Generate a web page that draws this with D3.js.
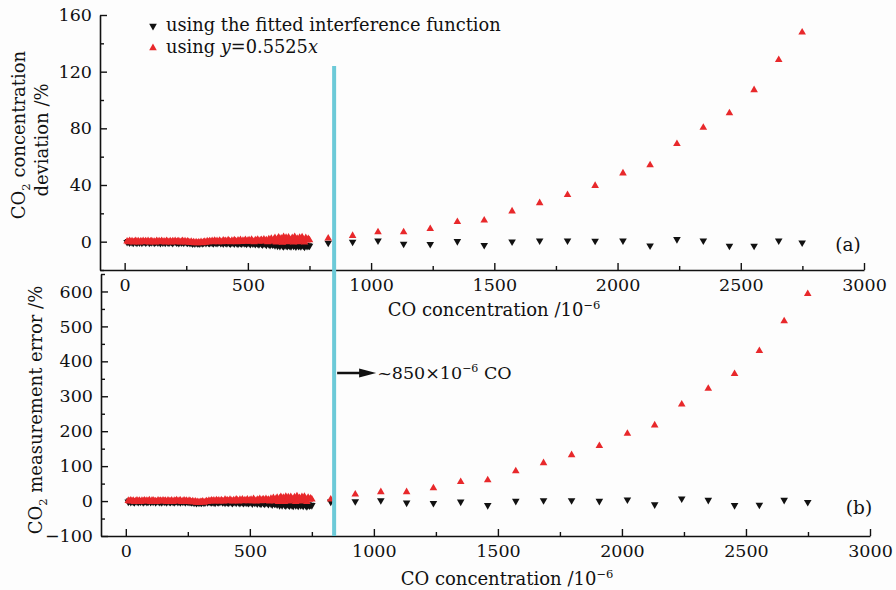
<!DOCTYPE html>
<html>
<head>
<meta charset="utf-8">
<script src="https://cdn.jsdelivr.net/npm/d3@7/dist/d3.min.js"></script>
<style>
  body { margin: 0; background: #fdfdfd; }
  svg { display: block; }
  text { font-family: "DejaVu Serif", serif; fill: #111; }
</style>
</head>
<body>
<svg id="chart" width="896" height="590"></svg>
<script>
// CO concentration (10^-6) of the dense low range, shared by both panels
var denseX = [10, 15, 20, 25, 30, 35, 40, 45, 50, 55,
  60, 65, 70, 75, 80, 85, 90, 95, 100, 105,
  110, 115, 120, 125, 130, 135, 140, 145, 150, 155,
  160, 165, 170, 175, 180, 185, 190, 195, 200, 205,
  210, 215, 220, 225, 230, 235, 240, 245, 250, 255,
  260, 265, 270, 275, 280, 285, 290, 295, 300, 305,
  310, 315, 320, 325, 330, 335, 340, 345, 350, 355,
  360, 365, 370, 375, 380, 385, 390, 395, 400, 405,
  410, 415, 420, 425, 430, 435, 440, 445, 450, 455,
  460, 465, 470, 475, 480, 485, 490, 495, 500, 505,
  510, 515, 520, 525, 530, 535, 540, 545, 550, 555,
  560, 565, 570, 575, 580, 585, 590, 595, 600, 605,
  610, 615, 620, 625, 630, 635, 640, 645, 650, 655,
  660, 665, 670, 675, 680, 685, 690, 695, 700, 705,
  710, 715, 720, 725, 730, 735, 740, 745, 750];

// (a) CO2 concentration deviation, %
var topDenseFit = [-0.4, 0.3, -0.7, 0.1, -0.5, -0.9, 0.2, -0.3, -0.8, 0.0,
  -0.6, 0.2, -0.9, -0.2, 0.1, -0.7, -0.4, 0.3, -0.8, -0.1,
  -0.5, 0.2, -0.9, -0.3, 0.0, -0.7, -0.2, -1.0, 0.1, -0.6,
  -0.3, -0.9, 0.2, -0.5, -0.8, 0.0, -0.4, -1.0, -0.2, 0.1,
  -0.7, -0.3, -1.0, 0.0, -0.6, -0.2, -0.9, 0.1, -0.5, -0.8,
  -0.4, -1.1, -0.6, -1.3, -0.8, -1.4, -0.7, -1.2, -1.0, -1.3,
  -0.6, -1.2, -0.9, -0.3, -1.1, -0.2, -0.8, -1.0, -0.4, -0.9,
  -1.2, -0.3, -0.8, -1.1, -0.5, -0.1, -1.0, -0.6, -1.3, -0.4,
  -0.9, -1.2, -0.2, -1.0, -1.4, -0.5, -0.8, -1.3, -0.3, -1.1,
  -1.5, -0.6, -1.0, -1.4, -0.4, -1.2, -0.9, -1.6, -0.7, -1.1,
  -1.7, -0.5, -1.3, -1.0, -1.8, -0.8, -1.4, -1.9, -0.6, -1.5,
  -2.0, -1.1, -1.6, -2.2, -0.9, -1.8, -2.4, -1.3, -2.1, -1.7,
  -2.6, -1.4, -2.9, -2.0, -3.1, -1.6, -2.7, -3.3, -1.9, -2.8,
  -3.2, -2.2, -2.9, -3.4, -1.8, -3.0, -2.5, -3.5, -2.1, -3.1,
  -2.6, -3.4, -2.0, -3.0, -3.6, -2.4, -3.2, -2.7, -3.0];
var topDenseLinear = [0.2, -0.3, 0.5, -0.1, 0.3, -0.4, 0.1, 0.6, -0.2, 0.4,
  -0.5, 0.2, 0.0, 0.5, -0.3, 0.3, -0.1, 0.6, -0.4, 0.2,
  0.4, -0.2, 0.1, -0.5, 0.5, 0.0, 0.3, -0.3, 0.6, -0.1,
  0.2, -0.4, 0.5, 0.1, -0.2, 0.4, -0.5, 0.3, 0.0, 0.6,
  -0.3, 0.2, 0.4, -0.4, 0.1, 0.5, -0.2, 0.3, -0.5, 0.2,
  -0.1, -0.6, 0.1, -0.8, -0.3, -0.9, -0.4, -1.0, -0.5, -0.8,
  -0.2, -0.9, -0.4, 0.1, -0.6, 0.3, -0.3, 0.4, -0.1, 0.6,
  -0.2, 0.7, 0.0, 0.5, -0.3, 0.8, 0.1, -0.2, 0.9, 0.2,
  0.6, -0.1, 1.0, 0.3, -0.3, 0.8, 0.0, 1.1, 0.4, -0.2,
  0.9, 0.2, 1.2, -0.1, 0.7, 0.3, 1.3, 0.0, 0.8, 1.0,
  0.1, 1.4, 0.4, -0.2, 1.1, 0.6, 1.5, 0.0, 0.9, 1.3,
  0.2, 1.6, 0.5, 1.0, -0.3, 1.8, 0.7, 2.2, 0.1, 1.4,
  2.6, -0.4, 1.9, 3.0, 0.3, 2.4, -0.6, 3.3, 1.2, 2.8,
  -0.2, 3.1, 1.6, 0.4, 2.7, -0.5, 3.4, 1.0, 2.2, -0.3,
  2.9, 0.6, 3.2, 1.5, -0.4, 2.6, 0.9, 2.0, 1.1];

// (b) CO2 measurement error, %
var botDenseFit = [-2, 1, -3, 0, -2, -4, 1, -1, -3, 0,
  -2, 1, -4, -1, 0, -3, -2, 1, -3, 0,
  -2, 1, -4, -1, 0, -3, -1, -4, 0, -2,
  -1, -4, 1, -2, -3, 0, -2, -4, -1, 0,
  -3, -1, -4, 0, -2, -1, -4, 0, -2, -3,
  -2, -4, -2, -5, -3, -6, -3, -5, -4, -5,
  -2, -5, -4, -1, -4, -1, -3, -4, -2, -4,
  -5, -1, -3, -4, -2, 0, -4, -2, -5, -2,
  -4, -5, -1, -4, -6, -2, -3, -5, -1, -4,
  -6, -2, -4, -6, -2, -5, -4, -6, -3, -4,
  -7, -2, -5, -4, -7, -3, -6, -8, -2, -6,
  -8, -4, -6, -9, -4, -7, -10, -5, -8, -7,
  -10, -6, -12, -8, -12, -6, -11, -13, -8, -11,
  -13, -9, -12, -14, -7, -12, -10, -14, -8, -12,
  -10, -14, -8, -12, -15, -10, -13, -11, -12];
var botDenseLinear = [1, -1, 2, 0, 1, -2, 0, 2, -1, 1,
  -2, 1, 0, 2, -1, 1, 0, 3, -2, 1,
  2, -1, 0, -2, 2, 0, 1, -1, 2, 0,
  1, -2, 2, 0, -1, 2, -2, 1, 0, 3,
  -1, 1, 2, -2, 0, 2, -1, 1, -2, 1,
  0, -3, 0, -3, -1, -4, -2, -4, -2, -3,
  -1, -4, -2, 0, -2, 1, -1, 2, 0, 2,
  -1, 3, 0, 2, -1, 3, 0, -1, 4, 1,
  2, 0, 4, 1, -1, 3, 0, 5, 2, -1,
  4, 1, 5, 0, 3, 1, 5, 0, 3, 4,
  0, 6, 2, -1, 4, 2, 6, 0, 4, 5,
  1, 6, 2, 4, -1, 7, 3, 9, 0, 6,
  10, -2, 8, 12, 1, 10, -2, 13, 5, 11,
  -1, 12, 6, 2, 11, -2, 14, 4, 9, -1,
  12, 2, 13, 6, -2, 10, 4, 8, 5];

// sparse high range
var sparseX = [826, 925, 1028, 1132, 1240, 1350, 1459, 1572, 1684, 1797, 1909, 2022, 2132, 2241, 2348, 2454, 2554, 2654, 2749];
var topFit = [-0.9, -0.2, 0.7, -1.6, -1.8, 0.3, -2.5, 0.0, 0.7, 0.7, 0.5, 0.7, -2.8, 1.7, 0.7, -3.0, -3.0, 0.7, -0.7];
var topLinear = [2.4, 4.2, 6.8, 6.8, 9.0, 14.0, 15.1, 21.5, 27.3, 33.0, 39.5, 48.3, 54.1, 69.0, 80.5, 90.8, 107.1, 128.3, 147.8];
var botFit = [-2, -1, 2, -5, -6, -2, -12, 0, 2, 2, 0, 4, -10, 7, 3, -12, -11, 3, -3];
var botLinear = [5, 19, 26, 26, 37, 55, 60, 86, 109, 132, 158, 193, 217, 277, 322, 364, 430, 515, 593];

var xTicks = [0, 500, 1000, 1500, 2000, 2500, 3000];
var topYTicks = [0, 40, 80, 120, 160];
var botYTicks = [-100, 0, 100, 200, 300, 400, 500, 600];
var boundaryCO = 850;

(function () {
  var red = "#e8282b";
  var black = "#111";
  var cyan = "#6ccad8";
  var markSize = 25;

  var svg = d3.select("#chart");

  var xTop = d3.scaleLinear().domain([-100, 3000]).range([100, 864]);
  var yTop = d3.scaleLinear().domain([-20, 160]).range([270, 15]);
  var xBot = d3.scaleLinear().domain([-100, 3000]).range([101, 870]);
  var yBot = d3.scaleLinear().domain([-100, 650]).range([536, 274]);

  var minorOf = function (lo, hi, step, majors) {
    return d3.range(lo, hi + step / 2, step).filter(function (v) {
      return majors.indexOf(v) < 0;
    });
  };

  var styleAxis = function (g) {
    g.select(".domain").attr("stroke", black).attr("stroke-width", 1.6);
    g.selectAll(".tick line").attr("stroke", black).attr("stroke-width", 1.4);
    g.selectAll(".tick text").attr("font-size", 17.5).attr("fill", black)
      .style("font-family", "'DejaVu Serif', serif");
  };

  var drawAxes = function (x, y, xMaj, yMaj, xMin, yMin, xBase, yBase) {
    var gx = svg.append("g").attr("transform", "translate(0," + yBase + ")")
      .call(d3.axisBottom(x).tickValues(xMaj).tickSizeInner(-7).tickSizeOuter(0)
        .tickPadding(9).tickFormat(d3.format("d")));
    styleAxis(gx);
    var gxm = svg.append("g").attr("transform", "translate(0," + yBase + ")")
      .call(d3.axisBottom(x).tickValues(xMin).tickSize(-4).tickFormat(""));
    gxm.select(".domain").remove();
    styleAxis(gxm);

    var gy = svg.append("g").attr("transform", "translate(" + xBase + ",0)")
      .call(d3.axisLeft(y).tickValues(yMaj).tickSizeInner(-7).tickSizeOuter(0)
        .tickPadding(8).tickFormat(function (d) { return d < 0 ? "\u2212" + (-d) : d; }));
    styleAxis(gy);
    var gym = svg.append("g").attr("transform", "translate(" + xBase + ",0)")
      .call(d3.axisLeft(y).tickValues(yMin).tickSize(-4).tickFormat(""));
    gym.select(".domain").remove();
    styleAxis(gym);
  };

  var tri = d3.symbol().type(d3.symbolTriangle).size(markSize);

  var drawPoints = function (x, y, xs, ys, color, down) {
    svg.append("g").selectAll("path")
      .data(xs.map(function (d, i) { return [d, ys[i]]; }))
      .enter().append("path")
      .attr("d", tri)
      .attr("fill", color)
      .attr("transform", function (d) {
        return "translate(" + x(d[0]) + "," + y(d[1]) + ")" + (down ? " rotate(180)" : "");
      });
  };

  // panel (a)
  drawAxes(xTop, yTop, xTicks, topYTicks,
    minorOf(0, 3000, 250, xTicks), minorOf(-20, 160, 20, topYTicks), 100, 270);
  drawPoints(xTop, yTop, denseX, topDenseFit, black, true);
  drawPoints(xTop, yTop, sparseX, topFit, black, true);
  drawPoints(xTop, yTop, denseX, topDenseLinear, red, false);
  drawPoints(xTop, yTop, sparseX, topLinear, red, false);

  // panel (b)
  drawAxes(xBot, yBot, xTicks, botYTicks,
    minorOf(0, 3000, 250, xTicks), minorOf(-100, 650, 50, botYTicks), 101, 536);
  drawPoints(xBot, yBot, denseX, botDenseFit, black, true);
  drawPoints(xBot, yBot, sparseX, botFit, black, true);
  drawPoints(xBot, yBot, denseX, botDenseLinear, red, false);
  drawPoints(xBot, yBot, sparseX, botLinear, red, false);

  // boundary line
  svg.append("line")
    .attr("x1", xTop(boundaryCO)).attr("x2", xTop(boundaryCO))
    .attr("y1", yTop(124)).attr("y2", yBot(-100))
    .attr("stroke", cyan).attr("stroke-width", 4);

  // annotation arrow
  var ay = 373;
  var ax0 = xTop(boundaryCO) + 3;
  svg.append("line").attr("x1", ax0).attr("x2", ax0 + 26).attr("y1", ay).attr("y2", ay)
    .attr("stroke", black).attr("stroke-width", 2.5);
  svg.append("path")
    .attr("d", "M" + (ax0 + 22) + "," + (ay - 4.5) + "L" + (ax0 + 39) + "," + ay + "L" + (ax0 + 22) + "," + (ay + 4.5) + "Z")
    .attr("fill", black);
  var ann = svg.append("text").attr("x", ax0 + 40).attr("y", ay + 6).attr("font-size", 17.5);
  ann.append("tspan").text("~850\u00d710");
  ann.append("tspan").attr("dy", -7).attr("font-size", 11).text("\u22126");
  ann.append("tspan").attr("dy", 7).text(" CO");

  // axis titles
  var xTitle = function (cx, by) {
    var t = svg.append("text").attr("x", cx).attr("y", by).attr("font-size", 18)
      .attr("text-anchor", "middle");
    t.append("tspan").text("CO concentration /10");
    t.append("tspan").attr("dy", -7).attr("font-size", 11.5).text("\u22126");
  };
  xTitle(494, 316);
  xTitle(507, 585);

  var yTitle = function (x, cy, parts) {
    var t = svg.append("text").attr("transform", "translate(" + x + "," + cy + ") rotate(-90)")
      .attr("font-size", 18).attr("text-anchor", "middle");
    parts.forEach(function (p) {
      t.append("tspan").attr("dy", p[1]).attr("font-size", p[2] || 18).text(p[0]);
    });
  };
  yTitle(25, 135, [["CO", 0], ["2", 5, 11.5], [" concentration", -5]]);
  yTitle(48, 140, [["deviation /%", 0]]);
  yTitle(42, 410, [["CO", 0], ["2", 5, 11.5], [" measurement error /%", -5]]);

  // panel labels
  svg.append("text").attr("x", 848).attr("y", 251).attr("text-anchor", "middle")
    .attr("font-size", 18.5).text("(a)");
  svg.append("text").attr("x", 859).attr("y", 514).attr("text-anchor", "middle")
    .attr("font-size", 18.5).text("(b)");

  // legend
  svg.append("path").attr("d", tri).attr("fill", black)
    .attr("transform", "translate(153,26) rotate(180)");
  svg.append("path").attr("d", tri).attr("fill", red)
    .attr("transform", "translate(153,48)");
  svg.append("text").attr("x", 166).attr("y", 31).attr("font-size", 17.8)
    .text("using the fitted interference function");
  var lg = svg.append("text").attr("x", 166).attr("y", 53).attr("font-size", 17.8);
  lg.append("tspan").text("using ");
  lg.append("tspan").attr("font-style", "italic").text("y");
  lg.append("tspan").text("=0.5525");
  lg.append("tspan").attr("font-style", "italic").text("x");
}());
</script>
</body>
</html>
